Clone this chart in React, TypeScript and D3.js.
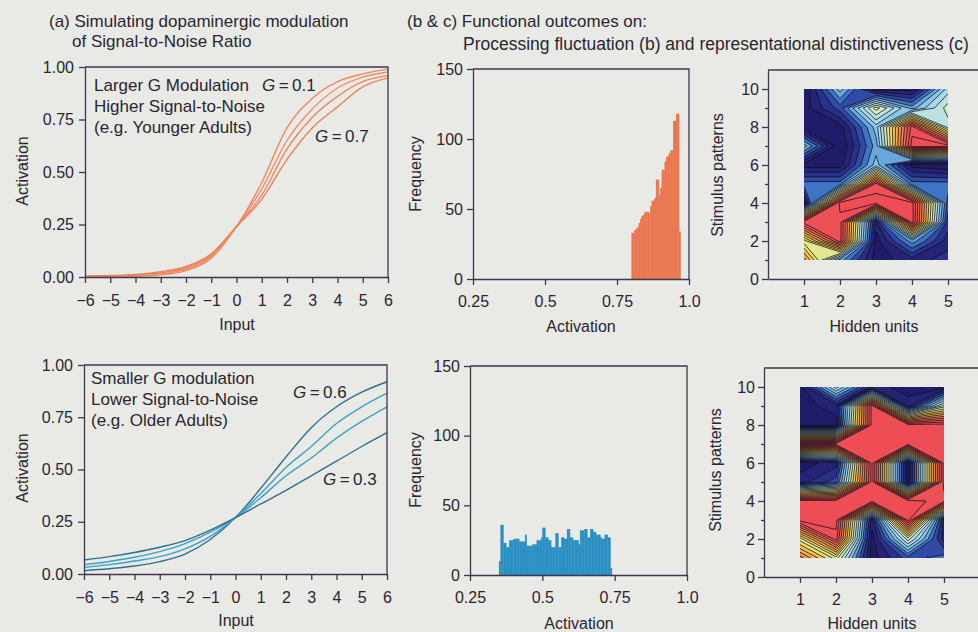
import { useEffect, useRef } from 'react';
import * as d3 from 'd3';

// (a) sigmoid activation curves, read at integer inputs
const inputs = [-6, -5, -4, -3, -2, -1, 0, 1, 2, 3, 4, 5, 6];
const inputTicks = inputs;
const activationTicks = [0, 0.25, 0.5, 0.75, 1];

const youngCurves = [
  [0.001, 0.002, 0.004, 0.01, 0.03, 0.09, 0.24, 0.45, 0.71, 0.85, 0.93, 0.967, 0.99],
  [0.002, 0.003, 0.006, 0.015, 0.037, 0.097, 0.24, 0.42, 0.65, 0.8, 0.9, 0.952, 0.976],
  [0.003, 0.005, 0.009, 0.02, 0.043, 0.103, 0.24, 0.39, 0.61, 0.76, 0.86, 0.93, 0.96],
  [0.004, 0.007, 0.012, 0.025, 0.05, 0.11, 0.24, 0.37, 0.56, 0.71, 0.81, 0.905, 0.948],
];
const youngColors = ['#ec8a5e', '#ee9068', '#ec8a5e', '#ea8258'];

const oldCurves = [
  [0.016, 0.025, 0.038, 0.059, 0.095, 0.165, 0.27, 0.41, 0.56, 0.7, 0.8, 0.87, 0.92],
  [0.032, 0.045, 0.062, 0.083, 0.12, 0.18, 0.27, 0.385, 0.51, 0.61, 0.72, 0.8, 0.865],
  [0.045, 0.06, 0.08, 0.107, 0.145, 0.2, 0.27, 0.365, 0.47, 0.555, 0.65, 0.73, 0.8],
  [0.067, 0.083, 0.103, 0.128, 0.16, 0.21, 0.27, 0.335, 0.4, 0.47, 0.54, 0.61, 0.676],
];
const oldColors = ['#2f7090', '#3aa2c6', '#3aa2c6', '#2f7090'];

// (b) activation histograms, bin width 0.005
const binWidth = 0.005;
const youngHistStart = 0.8;
const youngCounts = [
  33, 33, 35, 36, 37, 40, 43, 45, 46, 48, 48, 48, 47, 52, 56, 56, 58, 71, 71, 60, 65, 78, 78, 84, 87,
  88, 90, 92, 92, 113, 113, 118, 118, 34,
];
const oldHistStart = 0.35;
const oldCounts = [
  10, 36, 36, 23, 23, 20, 20, 25, 25, 25, 26, 26, 26, 26, 24, 24, 24, 24, 29, 21, 21, 21, 21, 22, 22,
  22, 25, 25, 25, 27, 34, 34, 27, 27, 25, 25, 20, 20, 20, 30, 30, 20, 20, 27, 27, 26, 26, 33, 33, 27,
  27, 25, 25, 25, 25, 22, 32, 32, 32, 33, 33, 27, 27, 33, 33, 31, 31, 29, 29, 29, 27, 26, 26, 29, 29,
  27, 27, 5,
];
const histTicks = [0.25, 0.5, 0.75, 1.0];
const histTickLabels = ['0.25', '0.5', '0.75', '1.0'];
const freqTicks = [0, 50, 100, 150];

// (c) hidden-unit representations: rows = stimulus patterns 1..10, columns = hidden units 1..5
const hiddenUnits = [1, 2, 3, 4, 5];
const patternTicks = [0, 2, 4, 6, 8, 10];
const patternMinorTicks = [1, 3, 5, 7, 9];
const youngPatterns = [
  [0.75, 0.3, 0.05, 0.1, 0.15],
  [0.55, 0.95, 0.05, 0.3, 0.1],
  [0.95, 0.95, 0.1, 1.0, 0.15],
  [0.05, 1.0, 1.0, 1.0, 0.2],
  [0.25, 0.25, 0.95, 0.25, 0.25],
  [0.05, 0.05, 0.35, 0.05, 0.02],
  [0.35, 0.02, 0.3, 1.0, 1.0],
  [0.05, 0.05, 0.35, 0.95, 0.45],
  [0.05, 0.2, 0.55, 0.3, 0.5],
  [0.02, 0.35, 0.05, 0.05, 0.4],
];
const oldPatterns = [
  [0.8, 0.55, 0.05, 0.2, 0.25],
  [0.55, 0.95, 0.05, 0.5, 0.1],
  [1.0, 1.0, 0.1, 1.0, 0.1],
  [1.0, 1.0, 1.0, 1.0, 0.95],
  [0.1, 0.2, 1.0, 0.05, 1.0],
  [0.05, 0.1, 1.0, 0.05, 1.0],
  [1.0, 1.0, 1.0, 1.0, 1.0],
  [0.05, 0.05, 1.0, 1.0, 1.0],
  [0.05, 0.1, 1.0, 0.1, 0.5],
  [0.05, 0.45, 0.1, 0.05, 0.05],
];

const FONT = '"Liberation Sans", Arial, Helvetica, sans-serif';
const INK = '#2a2630';
const FRAME = '#3f3652';
const BG = '#e9e9e6';

type Sel = d3.Selection<SVGGElement, unknown, null, undefined>;
type Box = { left: number; right: number; top: number; bottom: number };

function paintAxis(g: Sel) {
  g.attr('font-family', FONT).attr('font-size', 16);
  g.select('.domain').attr('stroke', FRAME).attr('stroke-width', 1.3);
  g.selectAll('.tick line').attr('stroke', FRAME).attr('stroke-width', 1.3);
  g.selectAll('.tick text').attr('fill', INK);
}

function drawFrame(root: Sel, box: Box) {
  root
    .append('path')
    .attr('d', `M${box.left},${box.top}H${box.right}V${box.bottom}`)
    .attr('fill', 'none')
    .attr('stroke', FRAME)
    .attr('stroke-width', 1.3);
}

function label(root: Sel, text: string, x: number, y: number, opts: { size?: number; anchor?: string; rotate?: boolean } = {}) {
  root
    .append('text')
    .attr('transform', `translate(${x},${y})${opts.rotate ? ' rotate(-90)' : ''}`)
    .attr('text-anchor', opts.anchor || 'start')
    .attr('font-family', FONT)
    .attr('font-size', opts.size || 16)
    .attr('fill', INK)
    .text(text);
}

function gLabel(root: Sel, value: string, x: number, y: number) {
  const t = root
    .append('text')
    .attr('x', x)
    .attr('y', y)
    .attr('font-family', FONT)
    .attr('font-size', 17)
    .attr('fill', INK);
  t.append('tspan').attr('font-style', 'italic').text('G');
  t.append('tspan').text(`\u2009=\u2009${value}`);
}

function linePanel(root: Sel, box: Box, curves: number[][], colors: string[]) {
  const x = d3.scaleLinear().domain([-6, 6]).range([box.left, box.right]);
  const y = d3.scaleLinear().domain([0, 1]).range([box.bottom, box.top]);
  const line = d3
    .line<number>()
    .x((_, i) => x(inputs[i]))
    .y((d) => y(d))
    .curve(d3.curveMonotoneX);

  curves.forEach((c, i) => {
    root
      .append('path')
      .attr('d', line(c))
      .attr('fill', 'none')
      .attr('stroke', colors[i])
      .attr('stroke-width', 1.4);
  });

  drawFrame(root, box);

  root
    .append('g')
    .attr('transform', `translate(0,${box.bottom})`)
    .call(d3.axisBottom(x).tickValues(inputTicks).tickSize(6).tickSizeOuter(0).tickPadding(12).tickFormat(d3.format('d')))
    .call(paintAxis);

  root
    .append('g')
    .attr('transform', `translate(${box.left},0)`)
    .call(d3.axisLeft(y).tickValues(activationTicks).tickSize(6).tickSizeOuter(0).tickPadding(5).tickFormat(d3.format('.2f')))
    .call(paintAxis);
}

function histPanel(root: Sel, box: Box, start: number, counts: number[], color: string) {
  const x = d3.scaleLinear().domain([0.25, 1.0]).range([box.left, box.right]);
  const y = d3.scaleLinear().domain([0, 150]).range([box.bottom, box.top]);

  root
    .append('g')
    .selectAll('rect')
    .data(counts)
    .join('rect')
    .attr('x', (_, i) => x(start + i * binWidth))
    .attr('width', x(start + binWidth) - x(start) + 0.4)
    .attr('y', (d) => y(d))
    .attr('height', (d) => y(0) - y(d))
    .attr('fill', color);

  drawFrame(root, box);

  root
    .append('g')
    .attr('transform', `translate(0,${box.bottom})`)
    .call(
      d3
        .axisBottom(x)
        .tickValues(histTicks)
        .tickSize(6)
        .tickSizeOuter(0)
        .tickPadding(11)
        .tickFormat((_, i) => histTickLabels[i])
    )
    .call(paintAxis);

  root
    .append('g')
    .attr('transform', `translate(${box.left},0)`)
    .call(d3.axisLeft(y).tickValues(freqTicks).tickSize(6).tickSizeOuter(0).tickPadding(4).tickFormat(d3.format('d')))
    .call(paintAxis);
}

const levelColor = d3
  .scaleLinear<string>()
  .domain([0.05, 0.15, 0.22, 0.3, 0.38, 0.47, 0.56, 0.66, 0.76, 0.86, 1])
  .range([
    '#211c6a',
    '#2b3696',
    '#3a6fc2',
    '#7cc0e6',
    '#a9dbee',
    '#cde9cf',
    '#efe46a',
    '#f4b34c',
    '#f2824c',
    '#ee5753',
    '#ee4b57',
  ]);

let clipCount = 0;

function contourPanel(root: Sel, box: Box, grid: number[][]) {
  const x = d3.scaleLinear().domain([0, 6]).range([box.left, box.right]);
  const y = d3.scaleLinear().domain([0, 11]).range([box.bottom, box.top]);

  const nx = hiddenUnits.length;
  const ny = grid.length;
  const values = grid.flat();
  const thresholds = d3.range(0.075, 1, 0.05);
  const contours = d3.contours().size([nx, ny]).thresholds(thresholds)(values);

  // grid coordinate c holds the value of index c - 0.5
  const projection = d3.geoTransform({
    point(px, py) {
      this.stream.point(x(px + 0.5), y(py + 0.5));
    },
  });
  const path = d3.geoPath(projection);

  const id = `clip-${clipCount++}`;
  root
    .append('clipPath')
    .attr('id', id)
    .append('rect')
    .attr('x', x(1))
    .attr('y', y(10))
    .attr('width', x(5) - x(1))
    .attr('height', y(1) - y(10));

  const heat = root.append('g').attr('clip-path', `url(#${id})`);
  heat
    .append('rect')
    .attr('x', x(1))
    .attr('y', y(10))
    .attr('width', x(5) - x(1))
    .attr('height', y(1) - y(10))
    .attr('fill', levelColor(0.05));
  heat
    .selectAll('path')
    .data(contours)
    .join('path')
    .attr('d', (d) => path(d as any))
    .attr('fill', (d) => levelColor(d.value))
    .attr('stroke', '#120f18')
    .attr('stroke-width', 0.75)
    .attr('stroke-linejoin', 'round');

  drawFrame(root, box);

  root
    .append('g')
    .attr('transform', `translate(0,${box.bottom})`)
    .call(d3.axisBottom(x).tickValues(hiddenUnits).tickSize(6).tickSizeOuter(0).tickPadding(11).tickFormat(d3.format('d')))
    .call(paintAxis);

  root
    .append('g')
    .attr('transform', `translate(${box.left},0)`)
    .call(d3.axisLeft(y).tickValues(patternTicks).tickSize(6).tickSizeOuter(0).tickPadding(3).tickFormat(d3.format('d')))
    .call(paintAxis);

  root
    .append('g')
    .attr('transform', `translate(${box.left},0)`)
    .call(d3.axisLeft(y).tickValues(patternMinorTicks).tickSize(3).tickSizeOuter(0).tickFormat(() => ''))
    .call(paintAxis)
    .call((g) => g.select('.domain').remove());
}

export default function App() {
  const svgRef = useRef<SVGSVGElement>(null);

  useEffect(() => {
    if (!svgRef.current) return;
    const svg = d3.select(svgRef.current);
    svg.selectAll('*').remove();
    const root = svg.append('g') as unknown as Sel;

    root.append('rect').attr('width', 978).attr('height', 632).attr('fill', BG);

    // headings
    label(root, '(a) Simulating dopaminergic modulation', 49, 27, { size: 17 });
    label(root, 'of Signal-to-Noise Ratio', 72, 47, { size: 17 });
    label(root, '(b & c) Functional outcomes on:', 407, 27, { size: 17 });
    label(root, 'Processing fluctuation (b) and representational distinctiveness (c)', 463, 50, { size: 17.5 });

    // (a) top: younger adults
    linePanel(root, { left: 85, right: 388, top: 67, bottom: 277 }, youngCurves, youngColors);
    label(root, 'Larger G Modulation', 94, 91, { size: 17 });
    gLabel(root, '0.1', 262, 91);
    label(root, 'Higher Signal-to-Noise', 94, 112, { size: 17 });
    label(root, '(e.g. Younger Adults)', 94, 133, { size: 17 });
    gLabel(root, '0.7', 315, 142);
    label(root, 'Activation', 28, 171, { rotate: true, anchor: 'middle' });
    label(root, 'Input', 237, 330, { anchor: 'middle' });

    // (a) bottom: older adults
    linePanel(root, { left: 84, right: 387, top: 365, bottom: 574 }, oldCurves, oldColors);
    label(root, 'Smaller G modulation', 91, 384, { size: 17 });
    label(root, 'Lower Signal-to-Noise', 91, 405, { size: 17 });
    label(root, '(e.g. Older Adults)', 91, 426, { size: 17 });
    gLabel(root, '0.6', 293, 398);
    gLabel(root, '0.3', 323, 485);
    label(root, 'Activation', 28, 468, { rotate: true, anchor: 'middle' });
    label(root, 'Input', 236, 626, { anchor: 'middle' });

    // (b) histograms
    histPanel(root, { left: 473, right: 689, top: 69, bottom: 279 }, youngHistStart, youngCounts, '#ea7650');
    label(root, 'Frequency', 421, 174, { rotate: true, anchor: 'middle' });
    label(root, 'Activation', 581, 332, { anchor: 'middle' });

    histPanel(root, { left: 470, right: 687, top: 366, bottom: 575 }, oldHistStart, oldCounts, '#2b90c3');
    label(root, 'Frequency', 421, 470, { rotate: true, anchor: 'middle' });
    label(root, 'Activation', 579, 629, { anchor: 'middle' });

    // (c) contour maps
    contourPanel(root, { left: 768, right: 984, top: 70, bottom: 279 }, youngPatterns);
    label(root, 'Stimulus patterns', 723, 175, { rotate: true, anchor: 'middle' });
    label(root, 'Hidden units', 874, 332, { anchor: 'middle' });

    contourPanel(root, { left: 764, right: 980, top: 368, bottom: 577 }, oldPatterns);
    label(root, 'Stimulus patterns', 721, 470, { rotate: true, anchor: 'middle' });
    label(root, 'Hidden units', 872, 629, { anchor: 'middle' });
  }, []);

  return (
    <svg
      ref={svgRef}
      width={978}
      height={632}
      style={{ position: 'absolute', left: 0, top: 0, display: 'block' }}
    />
  );
}
